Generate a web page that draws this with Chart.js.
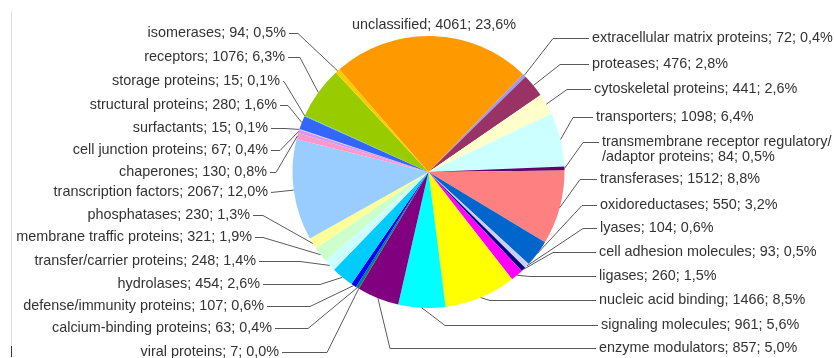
<!DOCTYPE html>
<html>
<head>
<meta charset="utf-8">
<script src="https://cdn.jsdelivr.net/npm/chart.js@4.4.1/dist/chart.umd.min.js"></script>
<style>
  html, body { margin: 0; padding: 0; background: #fff; }
  #wrap { width: 834px; height: 358px; position: relative; }
</style>
</head>
<body>
<div id="wrap"><canvas id="pie" width="834" height="358"></canvas></div>
<script>
// Categories, clockwise starting after "unclassified"
const categories = [
  'extracellular matrix proteins', 'proteases', 'cytoskeletal proteins', 'transporters',
  ['transmembrane receptor regulatory/', '/adaptor proteins'],
  'transferases', 'oxidoreductases', 'lyases', 'cell adhesion molecules', 'ligases',
  'nucleic acid binding', 'signaling molecules', 'enzyme modulators', 'viral proteins',
  'calcium-binding proteins', 'defense/immunity proteins', 'hydrolases',
  'transfer/carrier proteins', 'membrane traffic proteins', 'phosphatases',
  'transcription factors', 'chaperones', 'cell junction proteins', 'surfactants',
  'structural proteins', 'storage proteins', 'receptors', 'isomerases', 'unclassified'
];
const counts = [
  72, 476, 441, 1098, 84, 1512, 550, 104, 93, 260, 1466, 961, 857, 7,
  63, 107, 454, 248, 321, 230, 2067, 130, 67, 15, 280, 15, 1076, 94, 4061
];

// slice colours (same order as categories)
const sliceColors = [
  '#9999ff', '#993366', '#ffffcc', '#ccffff', '#660066', '#ff8080', '#0066cc', '#ccccff',
  '#000080', '#ff00ff', '#ffff00', '#00ffff', '#800080', '#800000', '#008080', '#0000ff',
  '#00ccff', '#ccffff', '#ccffcc', '#ffff99', '#99ccff', '#ff99cc', '#cc99ff', '#ffcc99',
  '#3366ff', '#33cccc', '#99cc00', '#ffcc00', '#ff9900'
];

// label placement: [text align, x, y, leader elbow x]
const labelLayout = [
  ['left', 592, 38, 553], ['left', 592, 64, 560], ['left', 594, 89, 567],
  ['left', 596, 117, 573], ['left', 602, 142, 583], ['left', 600, 179, 580],
  ['left', 600, 205, 582], ['left', 600, 228, 583], ['left', 599, 252, 553],
  ['left', 599, 276, 530], ['left', 599, 300, 490], ['left', 601, 325, 445],
  ['left', 599, 348, 390],
  ['right', 279, 352, 327], ['right', 272, 328, 308], ['right', 264, 306, 310],
  ['right', 260, 284, 320], ['right', 256, 261, 300], ['right', 252, 237, 263],
  ['right', 250, 215, 263], ['right', 268, 192, 271], ['right', 267, 172, 276],
  ['right', 268, 150, 280], ['right', 268, 128, 285], ['right', 277, 105, 288],
  ['right', 280, 81, 284], ['right', 285, 57, 300], ['right', 286, 33, 298],
  ['center', 434, 25, null]
];

const total = counts.reduce((a, b) => a + b, 0);
const pct = v => (v / total * 100).toFixed(1).replace('.', ',');

// labels with leader lines
const leaderLabels = {
  id: 'leaderLabels',
  afterDatasetsDraw(chart) {
    const ctx = chart.ctx;
    const arcs = chart.getDatasetMeta(0).data;
    ctx.save();
    ctx.font = '14.4px "Liberation Sans", Arial, sans-serif';
    ctx.fillStyle = '#333';
    ctx.strokeStyle = '#5a5a5a';
    ctx.lineWidth = 1;
    ctx.textBaseline = 'middle';

    categories.forEach((cat, i) => {
      const [align, x, y, elbow] = labelLayout[i];
      const lines = Array.isArray(cat) ? cat.slice() : [cat];
      lines[lines.length - 1] += '; ' + counts[i] + '; ' + pct(counts[i]) + '%';
      ctx.textAlign = align;
      lines.forEach((t, k) => ctx.fillText(t, x, y + k * 15));

      if (elbow === null) return;
      const arc = arcs[i];
      const mid = (arc.startAngle + arc.endAngle) / 2;
      const ex = arc.x + Math.cos(mid) * arc.outerRadius;
      const ey = arc.y + Math.sin(mid) * arc.outerRadius;
      const sx = align === 'left' ? x - 3 : x + 3;
      ctx.beginPath();
      ctx.moveTo(sx, y + 0.5);
      ctx.lineTo(elbow, y + 0.5);
      ctx.lineTo(ex, ey);
      ctx.stroke();
    });

    // thin frame line at the left edge
    ctx.strokeStyle = '#dcdcdc';
    ctx.beginPath();
    ctx.moveTo(11.5, 12);
    ctx.lineTo(11.5, 358);
    ctx.stroke();
    ctx.strokeStyle = '#333';
    ctx.beginPath();
    ctx.moveTo(11.5, 346);
    ctx.lineTo(11.5, 357);
    ctx.stroke();
    ctx.restore();
  }
};

new Chart(document.getElementById('pie'), {
  type: 'pie',
  data: {
    labels: categories,
    datasets: [{
      data: counts,
      backgroundColor: sliceColors,
      borderWidth: 0
    }]
  },
  options: {
    responsive: false,
    animation: false,
    rotation: 44,
    layout: { padding: { left: 292.5, right: 269.5, top: 36, bottom: 50 } },
    plugins: {
      legend: { display: false },
      tooltip: { enabled: false }
    }
  },
  plugins: [leaderLabels]
});
</script>
</body>
</html>
